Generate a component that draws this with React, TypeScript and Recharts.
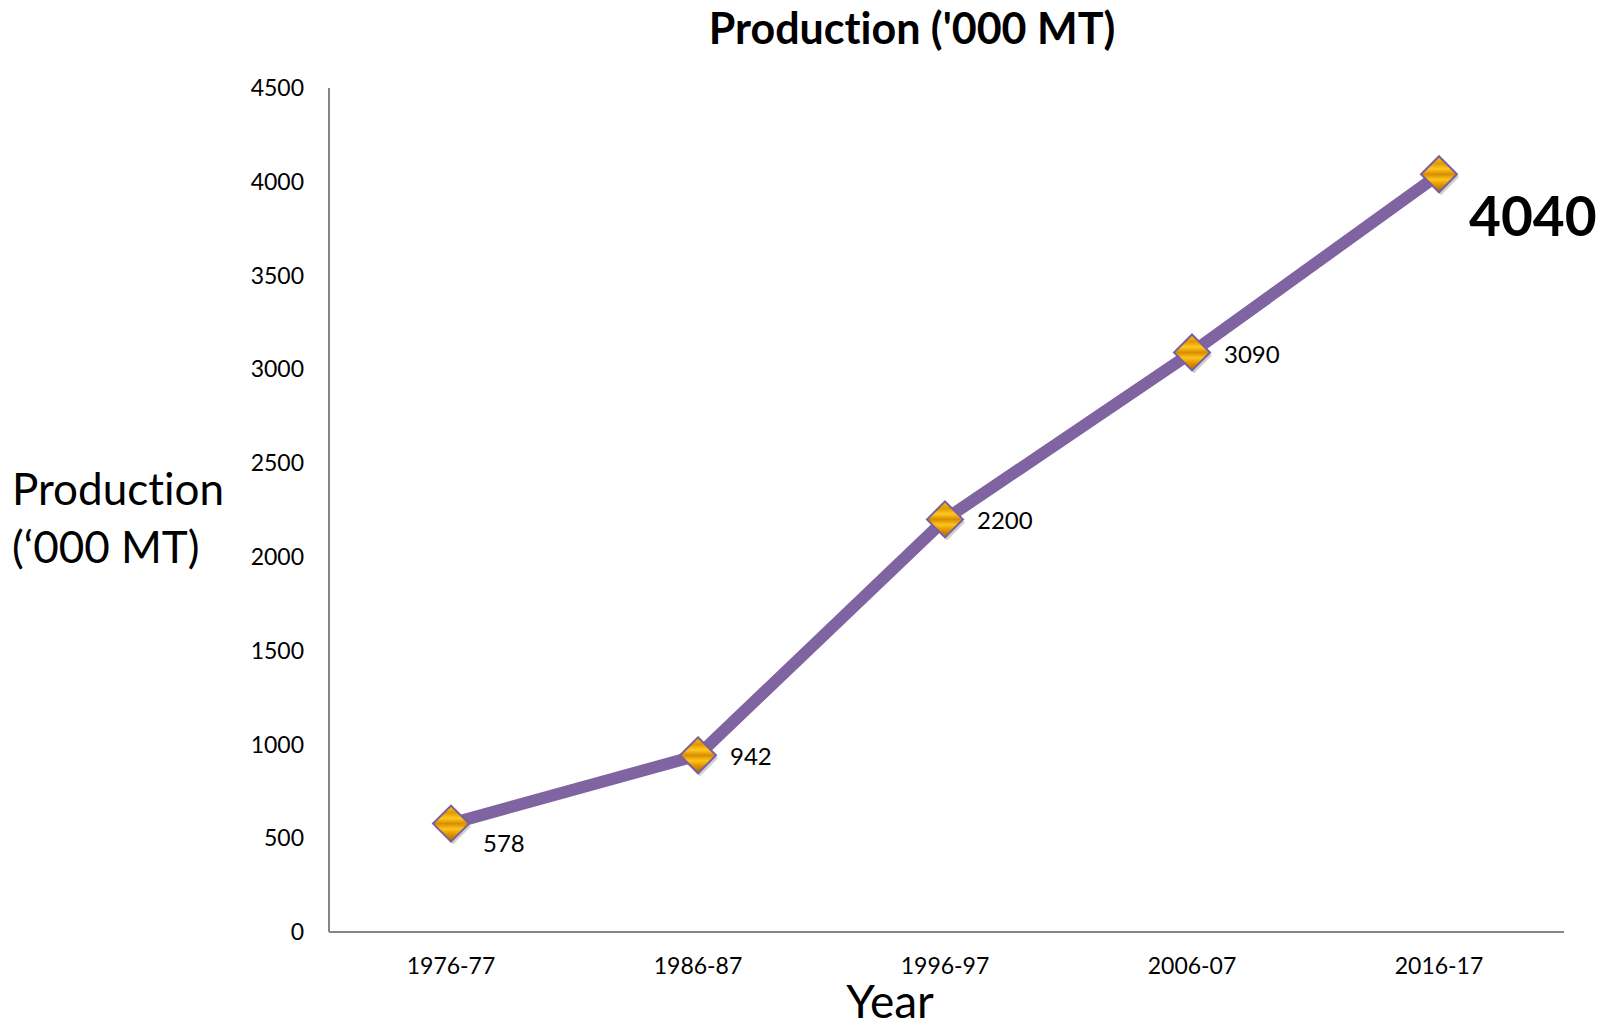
import React from "react"
import { LineChart, Line, XAxis, YAxis, LabelList } from "recharts"

const years = ["1976-77", "1986-87", "1996-97", "2006-07", "2016-17"]
const production = [578, 942, 2200, 3090, 4040]
const yTicks = [0, 500, 1000, 1500, 2000, 2500, 3000, 3500, 4000, 4500]

const data = years.map((year, i) => ({ year, value: production[i] }))

const font = "Lato, 'Open Sans', sans-serif"
const noLig = { fontVariantLigatures: "none" as const }

function Diamond(props: any) {
  const { cx, cy } = props
  if (cx == null || cy == null) return null
  const r = 18
  return (
    <g>
      <polygon
        points={`${cx + 2},${cy - r + 3} ${cx + r + 2},${cy + 3} ${cx + 2},${cy + r + 3} ${cx - r + 2},${cy + 3}`}
        fill="rgba(0,0,0,0.18)"
      />
      <polygon
        points={`${cx},${cy - r} ${cx + r},${cy} ${cx},${cy + r} ${cx - r},${cy}`}
        fill="url(#goldStripes)"
        stroke="#7a5fa0"
        strokeWidth={2}
      />
    </g>
  )
}

function ValueLabel(props: any) {
  const { x, y, value, index } = props
  if (index === production.length - 1) {
    return (
      <text x={x + 30} y={y + 48} fontSize={55} fontWeight="bold" fontFamily={font} fill="#000" dominantBaseline="middle" style={noLig}>
        {value}
      </text>
    )
  }
  const dy = index === 0 ? 22 : 4
  return (
    <text x={x + 32} y={y + dy} fontSize={24} fontFamily={font} fill="#000" dominantBaseline="middle" style={noLig}>
      {value}
    </text>
  )
}

export default function App() {
  return (
    <div style={{ position: "absolute", left: 0, top: 0, width: 1604, height: 1027, overflow: "hidden", background: "#fff", fontFamily: font, ...noLig }}>
      <div style={{ position: "absolute", left: 0, width: 1824, top: 2, textAlign: "center", fontSize: 43, fontWeight: "bold" }}>
        Production ('000 MT)
      </div>
      <div style={{ position: "absolute", left: 12, top: 459, fontSize: 44, lineHeight: "58px" }}>
        Production
        <br />
        (‘000 MT)
      </div>
      <div style={{ position: "absolute", left: 890, top: 1001, transform: "translate(-50%, -50%)", fontSize: 46, lineHeight: 1 }}>
        Year
      </div>
      <LineChart width={1604} height={1027} data={data} margin={{ top: 88, right: 40, bottom: 35, left: 249 }}>
        <defs>
          <linearGradient id="goldStripes" x1="0" y1="0" x2="0" y2="1">
            <stop offset="0%" stopColor="#f7c21a" />
            <stop offset="20%" stopColor="#e39a00" />
            <stop offset="35%" stopColor="#ffc820" />
            <stop offset="50%" stopColor="#d88c00" />
            <stop offset="65%" stopColor="#ffc31a" />
            <stop offset="80%" stopColor="#e09300" />
            <stop offset="100%" stopColor="#a86a00" />
          </linearGradient>
        </defs>
        <XAxis
          dataKey="year"
          height={60}
          padding={{ left: 122, right: 125 }}
          stroke="#868686"
          strokeWidth={2}
          tickLine={false}
          tickSize={0}
          tickMargin={26}
          tick={{ fill: "#000", fontSize: 23, fontFamily: font, style: noLig }}
        />
        <YAxis
          domain={[0, 4500]}
          ticks={yTicks}
          width={80}
          stroke="#868686"
          strokeWidth={2}
          tickLine={false}
          tickSize={0}
          tickMargin={25}
          interval={0}
          tick={{ fill: "#000", fontSize: 23, fontFamily: font, style: noLig }}
        />
        <Line
          type="linear"
          dataKey="value"
          stroke="#8064a2"
          strokeWidth={12}
          dot={<Diamond />}
          activeDot={false}
          isAnimationActive={false}
        >
          <LabelList dataKey="value" content={<ValueLabel />} />
        </Line>
      </LineChart>
    </div>
  )
}
